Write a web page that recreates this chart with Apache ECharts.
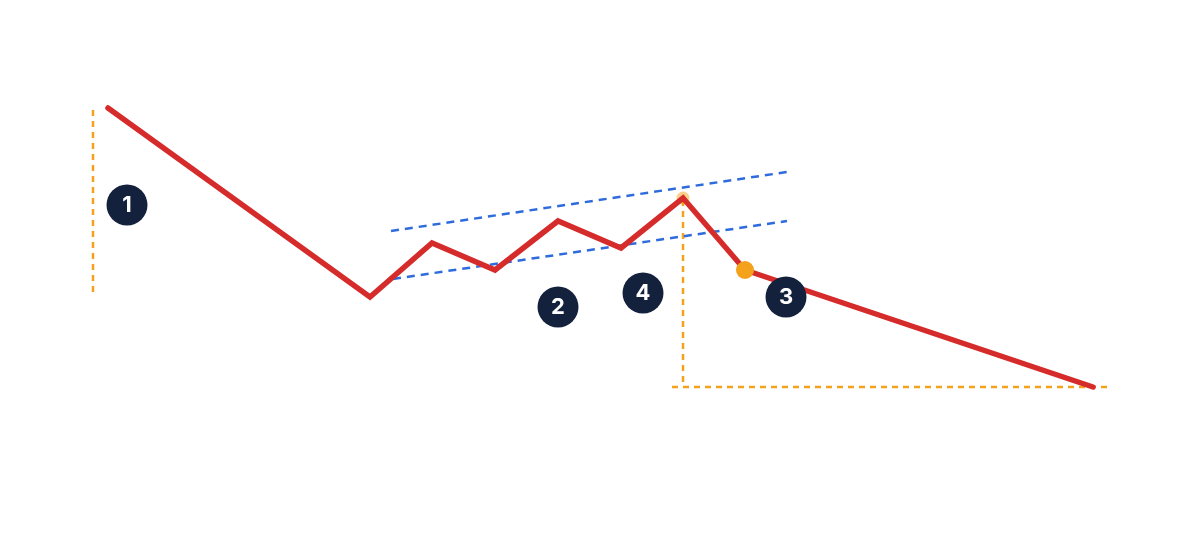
<!DOCTYPE html>
<html><head><meta charset="utf-8">
<script src="https://cdn.jsdelivr.net/npm/echarts@6/dist/echarts.min.js"></script>
<style>html,body{margin:0;padding:0;background:#fff}#c{width:1200px;height:560px}</style>
</head><body><div id="c"></div>
<script>
// price path (x position, price level; screen-like units)
const pathX = [108, 370, 432, 495, 558, 621, 683, 745, 1093];
const pathY = [108, 297, 243, 270, 221, 248, 198, 270, 387];
// channel lines
const upperX = [391, 787], upperY = [231, 172];
const lowerX = [393, 787], lowerY = [279, 221];
// orange guide lines
const heightLineX = [93, 93], heightLineY = [110, 297];
const targetVX = [683, 683], targetVY = [200, 385];
const targetHX = [672, 1107], targetHY = [387, 387];
// markers
const breakoutPt = [745, 270];
const peakPt = [683, 198];
// numbered badges
const badgeLabels = ['1', '2', '4', '3'];
const badgeX = [127, 558, 643, 786];
const badgeY = [205, 307, 293, 297];

const zip = (xs, ys) => xs.map((x, i) => [x, ys[i]]);
const RED = '#d62b2b', BLUE = '#2e6bdc', ORANGE = '#f4a11c', NAVY = '#14213d';

const chart = echarts.init(document.getElementById('c'));
chart.setOption({
  animation: false,
  grid: {left: 0, right: 0, top: 0, bottom: 0},
  xAxis: {type: 'value', min: 0, max: 1200, show: false},
  yAxis: {type: 'value', min: 0, max: 560, inverse: true, show: false},
  series: [
    {type: 'line', data: zip(heightLineX, heightLineY), symbol: 'none',
     lineStyle: {color: ORANGE, width: 2.5, type: [6, 5]}, z: 1},
    {type: 'line', data: zip(targetVX, targetVY), symbol: 'none',
     lineStyle: {color: ORANGE, width: 2.5, type: [6, 5]}, z: 1},
    {type: 'line', data: zip(targetHX, targetHY), symbol: 'none',
     lineStyle: {color: ORANGE, width: 2.5, type: [6, 5]}, z: 1},
    {type: 'line', data: zip(upperX, upperY), symbol: 'none',
     lineStyle: {color: BLUE, width: 2.5, type: [8, 6]}, z: 2},
    {type: 'line', data: zip(lowerX, lowerY), symbol: 'none',
     lineStyle: {color: BLUE, width: 2.5, type: [8, 6]}, z: 2},
    {type: 'scatter', data: [peakPt], symbolSize: 13,
     itemStyle: {color: ORANGE, opacity: 0.5}, z: 3},
    {type: 'line', data: zip(pathX, pathY), symbol: 'none',
     lineStyle: {color: RED, width: 5.5, cap: 'round', join: 'miter'}, z: 4},
    {type: 'scatter', data: [breakoutPt], symbolSize: 18,
     itemStyle: {color: ORANGE, opacity: 1}, z: 5},
    {type: 'scatter', data: badgeX.map((x, i) => ({value: [x, badgeY[i]], name: badgeLabels[i]})),
     symbolSize: 41, itemStyle: {color: NAVY, opacity: 1}, z: 6,
     label: {show: true, position: 'inside', formatter: p => p.name,
       color: '#fff', fontSize: 22, fontWeight: 'bold', fontFamily: 'Inter, "Open Sans", sans-serif'}}
  ]
});
</script></body></html>
